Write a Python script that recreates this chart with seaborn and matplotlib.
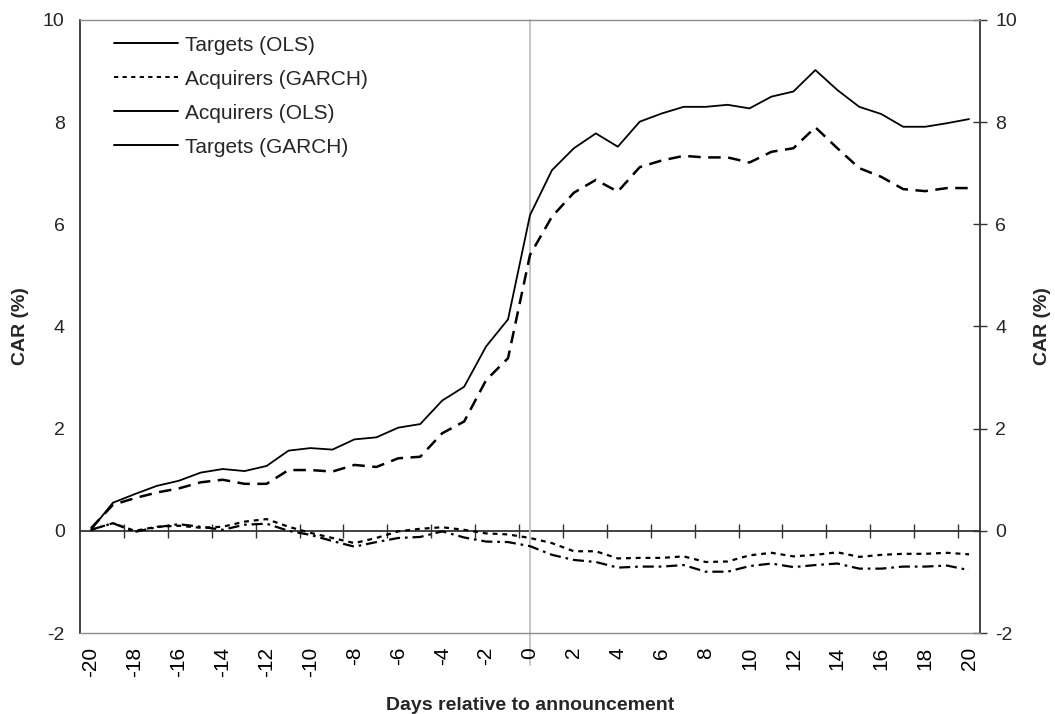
import numpy as np
import pandas as pd
import matplotlib
matplotlib.use("Agg")
import matplotlib.pyplot as plt
from matplotlib.lines import Line2D
import seaborn as sns

# ---------------- data ----------------
days = list(range(-20, 21))

targets_ols = [0.02, 0.55, 0.72, 0.88, 0.98, 1.14, 1.21, 1.17, 1.27, 1.57, 1.62,
               1.59, 1.79, 1.83, 2.02, 2.09, 2.55, 2.82, 3.61, 4.14, 6.18,
               7.06, 7.49, 7.78, 7.52, 8.01, 8.17, 8.30, 8.30, 8.34, 8.27,
               8.50, 8.60, 9.02, 8.63, 8.30, 8.16, 7.91, 7.91, 7.98, 8.06]

targets_garch = [0.05, 0.51, 0.64, 0.75, 0.83, 0.95, 1.00, 0.92, 0.92, 1.19, 1.19,
                 1.16, 1.29, 1.25, 1.42, 1.45, 1.91, 2.14, 2.95, 3.38, 5.40,
                 6.15, 6.62, 6.87, 6.64, 7.12, 7.25, 7.34, 7.31, 7.31, 7.21,
                 7.42, 7.49, 7.90, 7.49, 7.10, 6.93, 6.69, 6.65, 6.71, 6.71]

acquirers_garch = [0.02, 0.15, 0.00, 0.08, 0.10, 0.06, 0.08, 0.18, 0.23, 0.08, -0.04,
                   -0.14, -0.24, -0.14, -0.01, 0.04, 0.07, 0.02, -0.05, -0.07, -0.14,
                   -0.24, -0.40, -0.40, -0.54, -0.53, -0.53, -0.50, -0.61, -0.60, -0.48,
                   -0.43, -0.50, -0.47, -0.42, -0.51, -0.47, -0.45, -0.45, -0.43, -0.46]

acquirers_ols = [0.02, 0.15, -0.02, 0.07, 0.13, 0.08, 0.02, 0.12, 0.14, 0.00, -0.08,
                 -0.20, -0.31, -0.22, -0.14, -0.12, -0.01, -0.13, -0.21, -0.22, -0.30,
                 -0.47, -0.57, -0.61, -0.72, -0.70, -0.70, -0.67, -0.80, -0.80, -0.69,
                 -0.64, -0.71, -0.67, -0.64, -0.74, -0.74, -0.70, -0.70, -0.68, -0.77]

legend_labels = ["Targets (OLS)", "Acquirers (GARCH)", "Acquirers (OLS)", "Targets (GARCH)"]
x_tick_values = list(range(-20, 21, 2))
x_tick_labels = [str(v) for v in x_tick_values]
y_tick_values = [-2, 0, 2, 4, 6, 8, 10]
y_tick_labels = [str(v) for v in y_tick_values]

# ---------------- style ----------------
sns.set_style("white")
plt.rcParams["font.family"] = ["Liberation Sans", "DejaVu Sans"]
plt.rcParams["axes.unicode_minus"] = False

fig = plt.figure(figsize=(10.55, 7.14), dpi=100)
ax = fig.add_axes([80 / 1055, 1 - 633 / 714, 900 / 1055, 613 / 714])

dark = "#333333"
gray = "#8c8c8c"

sns.lineplot(x=days, y=targets_ols, ax=ax, color="black", lw=1.3, legend=False)
sns.lineplot(x=days, y=targets_garch, ax=ax, color="black", lw=1.8,
             linestyle=(0, (5, 3)), legend=False)
sns.lineplot(x=days, y=acquirers_garch, ax=ax, color="black", lw=1.6,
             linestyle=(0, (2.2, 2.2)), legend=False)
sns.lineplot(x=days, y=acquirers_ols, ax=ax, color="black", lw=1.6,
             linestyle=(0, (5, 2.2, 1.2, 2.2)), legend=False)

ax.set_xlim(-20.5, 20.5)
ax.set_ylim(-2, 10)

# vertical line at announcement day
ax.axvline(0, ymin=-0.052, ymax=1, color="#c0c0c0", lw=1.3, clip_on=False, zorder=0.5)

# spines
for s in ["top", "bottom"]:
    ax.spines[s].set_color(gray)
    ax.spines[s].set_linewidth(1.0)
ax.spines["left"].set_color(dark)
ax.spines["left"].set_linewidth(1.3)
ax.spines["right"].set_visible(False)

# x tick labels at bottom
ax.set_xticks(x_tick_values)
ax.set_xticklabels(x_tick_labels, rotation=90, fontsize=15)
ax.tick_params(axis="x", length=0, pad=10, colors="black")

# y ticks
ax.set_yticks(y_tick_values)
ax.set_yticklabels(y_tick_labels, fontsize=14)
ax.tick_params(axis="y", direction="inout", length=10, width=1, color=dark, pad=6)

ax.set_ylabel("CAR (%)", fontsize=14, fontweight="bold", labelpad=10)
ax.set_xlabel("Days relative to announcement", fontsize=14, fontweight="bold", labelpad=14)

# right axis
sec_y = ax.secondary_yaxis("right")
sec_y.set_yticks(y_tick_values)
sec_y.set_yticklabels(y_tick_labels, fontsize=14)
sec_y.tick_params(direction="inout", length=10, width=1, color=dark, pad=6)
sec_y.spines["right"].set_color(dark)
sec_y.spines["right"].set_linewidth(1.3)
sec_y.set_ylabel("CAR (%)", fontsize=14, fontweight="bold", labelpad=12)

# zero axis with cross ticks at category boundaries
zero_pos = (0 - (-2)) / 12
sec_x = ax.secondary_xaxis(zero_pos)
boundaries = [b + 0.5 for b in range(-19, 20, 2)]
sec_x.set_xticks(boundaries)
sec_x.set_xticklabels([""] * len(boundaries))
sec_x.tick_params(direction="inout", length=10, width=1, color=dark)
sec_x.spines["bottom"].set_color(dark)
sec_x.spines["bottom"].set_linewidth(1.3)

# legend (as in the original: three solid handles, one short-dashed)
handles = [
    Line2D([], [], color="black", lw=1.4),
    Line2D([], [], color="black", lw=1.4, linestyle=(0, (2.2, 2.2))),
    Line2D([], [], color="black", lw=1.4),
    Line2D([], [], color="black", lw=1.4),
]
ax.legend(handles, legend_labels, loc="upper left", bbox_to_anchor=(0.028, 0.988),
          frameon=False, fontsize=15, handlelength=3.1, handletextpad=0.35,
          labelspacing=0.72, borderaxespad=0)

fig.savefig("out.png", dpi=100)
